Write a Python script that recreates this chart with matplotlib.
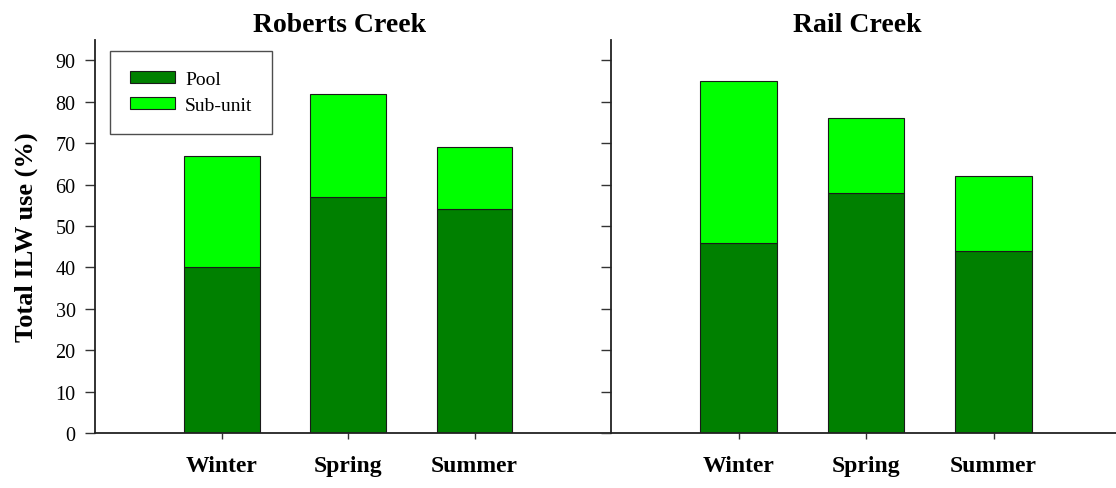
# Stacked bars of ILW use by season for Roberts Creek and Rail Creek
import matplotlib
matplotlib.use('Agg')
import matplotlib.pyplot as plt

seasons = ['Winter', 'Spring', 'Summer']
sites = ['Roberts Creek', 'Rail Creek']
pool = {'Roberts Creek': [40, 57, 54], 'Rail Creek': [46, 58, 44]}
subunit = {'Roberts Creek': [27, 25, 15], 'Rail Creek': [39, 18, 18]}
yticks = [0, 10, 20, 30, 40, 50, 60, 70, 80, 90]

dark_green = '#008000'
light_green = '#00ff00'

plt.rcParams['font.family'] = 'Liberation Serif'

fig = plt.figure(figsize=(11.16, 4.89), dpi=100)
ax1 = fig.add_axes([0.0855, 0.1125, 0.462, 0.8043])
ax2 = fig.add_axes([0.5475, 0.1125, 0.4525, 0.8043])

x = [1, 2, 3]
for ax, site, xmax in [(ax1, sites[0], 4.08), (ax2, sites[1], 3.96)]:
    ax.bar(x, pool[site], width=0.6, color=dark_green, edgecolor='#1a1a1a',
           linewidth=0.8, label='Pool', zorder=2)
    ax.bar(x, subunit[site], width=0.6, bottom=pool[site], color=light_green,
           edgecolor='#1a1a1a', linewidth=0.8, label='Sub-unit', zorder=2)
    ax.set_xlim(0, xmax)
    ax.set_ylim(0, 95)
    ax.set_yticks(yticks)
    ax.set_xticks(x)
    ax.set_xticklabels(seasons, fontsize=17, fontweight='bold')
    ax.tick_params(axis='x', length=4.3, width=1, pad=11.5, color='#333333')
    ax.tick_params(axis='y', length=7.2, width=1, pad=7, labelsize=14.5,
                   color='#333333')
    for s in ['top', 'right']:
        ax.spines[s].set_visible(False)
    for s in ['left', 'bottom']:
        ax.spines[s].set_color('#222222')
        ax.spines[s].set_linewidth(1.3)
    ax.text(1.93, 1.021, site, transform=ax.get_xaxis_transform(),
            ha='center', va='baseline', fontsize=20, fontweight='bold')

ax2.set_yticklabels([])

leg = ax1.legend(loc='upper left', bbox_to_anchor=(0.029, 0.971),
                 borderaxespad=0, fontsize=14, frameon=True, fancybox=False,
                 edgecolor='#222222', handlelength=2.3, handleheight=0.57,
                 handletextpad=0.55, labelspacing=0.5, borderpad=1.0)
leg.get_frame().set_linewidth(1.0)

fig.text(26 / 1116, 1 - 237.5 / 489, 'Total ILW use (%)', rotation=90,
         ha='center', va='center', fontsize=19, fontweight='bold')

fig.savefig('out.png', dpi=100)
